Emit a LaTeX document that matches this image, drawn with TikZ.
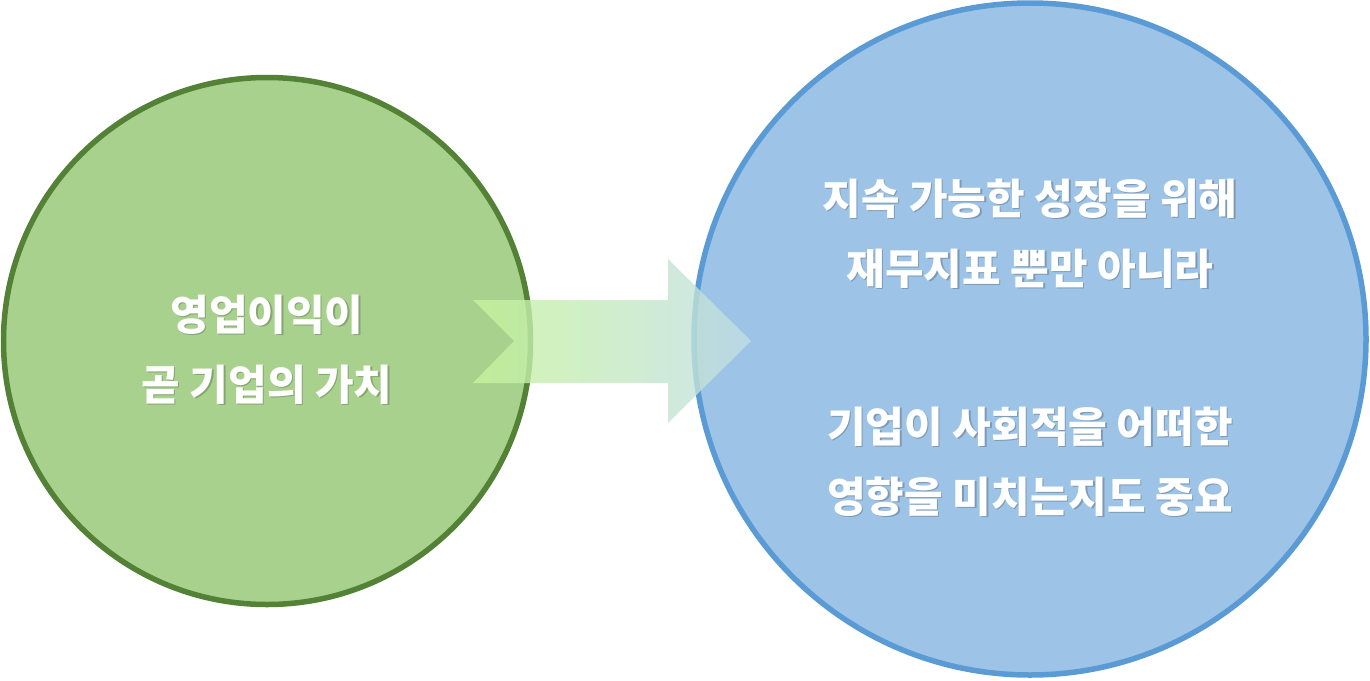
\documentclass[tikz,border=0pt]{standalone}
\usepackage{fontspec}
\setmainfont{Noto Sans CJK KR}
\usepackage{xcolor}
\usepackage{tikz}
\usetikzlibrary{calc}
\definecolor{val-green}{HTML}{A9D18E}
\definecolor{val-dgreen}{HTML}{538135}
\definecolor{val-blue}{HTML}{9DC3E6}
\definecolor{val-dblue}{HTML}{5B9BD5}
\definecolor{arr-left}{HTML}{C6F49C}
\definecolor{arr-right}{HTML}{C2DEE6}
\definecolor{gshadow}{HTML}{86A571}
\definecolor{bshadow}{HTML}{7E9AB5}
\newcommand{\shtext}[2]{\leavevmode\rlap{\hspace{1.4pt}\raisebox{-1.4pt}{\color{#1}#2}}#2}

\begin{document}
\begin{tikzpicture}[x=1pt, y=-1pt,
        bubble/.style={circle, line width=5.5pt, inner sep=0pt},
        lbl/.style={align=center, text=white,
                    font=\fontsize{42}{70}\selectfont\bfseries},
        flow/.style={left color=arr-left, right color=arr-right,
                     fill opacity=0.8, draw=none}
      ]
        \useasboundingbox (0,0) rectangle (1370,680);
        \node[bubble, draw=val-dgreen, fill=val-green, minimum size=527pt] (green) at (267,341) {};
        \node[bubble, draw=val-dblue, fill=val-blue, minimum size=672pt] (blue) at (1030,339) {};
        % text of both circles
        \node[lbl] (gtxt) at ([yshift=-9]green.center)
          {\shtext{gshadow}{영업이익이}\\\shtext{gshadow}{곧 기업의 가치}};
        \node[lbl] (btxt) at ([yshift=-9]blue.center)
          {\shtext{bshadow}{지속 가능한 성장을 위해}\\
           \shtext{bshadow}{재무지표 뿐만 아니라}\\[88pt]
           \shtext{bshadow}{기업이 사회적을 어떠한}\\
           \shtext{bshadow}{영향을 미치는지도 중요}};
        % block arrow from green to blue
        \coordinate (arr) at (473,341);
        \shade[flow] ($(arr)+(0,-41)$) -- ($(arr)+(195,-41)$) -- ($(arr)+(195,-82)$)
          -- ($(arr)+(278,0)$) -- ($(arr)+(195,82)$) -- ($(arr)+(195,42)$)
          -- ($(arr)+(0,42)$) -- ($(arr)+(41,0)$) -- cycle;
      \end{tikzpicture}
\end{document}
